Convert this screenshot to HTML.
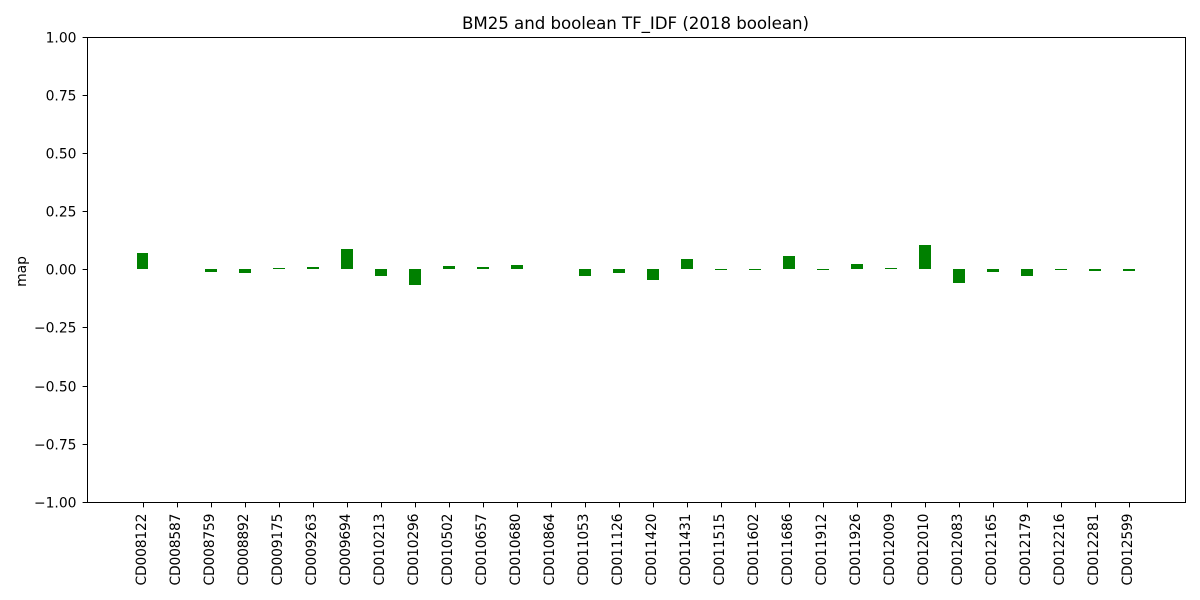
<!DOCTYPE html>
<html>
<head>
<meta charset="utf-8">
<title>BM25 and boolean TF_IDF (2018 boolean)</title>
<style>
html,body{margin:0;padding:0;background:#fff;}
svg{display:block;}
text{font-family:"DejaVu Sans",sans-serif;fill:#000;}
</style>
</head>
<body>
<svg id="chart" width="1200" height="600" viewBox="0 0 1200 600" xmlns="http://www.w3.org/2000/svg">
<rect x="0" y="0" width="1200" height="600" fill="#fff"/>
<text x="635.5" y="29" font-size="16.67" text-anchor="middle" textLength="347" lengthAdjust="spacing">BM25 and boolean TF_IDF (2018 boolean)</text>
<text transform="translate(26,271.5) rotate(-90)" font-size="13.89" text-anchor="middle">map</text>
<g id="bars"></g>
<g id="xticks"></g>
<g id="yticks"></g>
<rect x="87.5" y="37.5" width="1098" height="465" fill="none" stroke="#000" stroke-width="1"/>
</svg>
<script>
var categories = ["CD008122","CD008587","CD008759","CD008892","CD009175","CD009263","CD009694","CD010213","CD010296","CD010502","CD010657","CD010680","CD010864","CD011053","CD011126","CD011420","CD011431","CD011515","CD011602","CD011686","CD011912","CD011926","CD012009","CD012010","CD012083","CD012165","CD012179","CD012216","CD012281","CD012599"];
var mapDifference = [0.068,0,-0.012,-0.017,0.003,0.008,0.085,-0.030,-0.068,0.012,0.008,0.016,0,-0.030,-0.017,-0.047,0.042,-0.004,-0.004,0.055,-0.004,0.020,0.003,0.102,-0.060,-0.012,-0.030,-0.004,-0.008,-0.008];
var yTickValues = [1,0.75,0.5,0.25,0,-0.25,-0.5,-0.75,-1];
var yTickLabels = ["1.00","0.75","0.50","0.25","0.00","\u22120.25","\u22120.50","\u22120.75","\u22121.00"];

var NS = "http://www.w3.org/2000/svg";
var barFraction = 0.35;
function xScale(i){ return 142.54 + 34.01 * i; }
function yScale(v){ return 269.75 - 232.5 * v; }
function snap(p){ return Math.floor(p) + 0.5; }

var barsGroup = document.getElementById("bars");
var xGroup = document.getElementById("xticks");
var yGroup = document.getElementById("yticks");

mapDifference.forEach(function(v, i){
  if (v === 0) { return; }
  var halfWidth = barFraction * 34.01 / 2;
  var x0 = Math.round(xScale(i) - halfWidth);
  var x1 = Math.round(xScale(i) + halfWidth);
  var y0 = Math.round(yScale(Math.max(v, 0)));
  var y1 = Math.round(yScale(Math.min(v, 0)));
  var r = document.createElementNS(NS, "rect");
  
  
  r.setAttribute("x", x0);
  r.setAttribute("y", y0 - 1);
  r.setAttribute("width", x1 - x0);
  r.setAttribute("height", Math.max(1, y1 - y0));
  r.setAttribute("fill", "#008000");
  r.setAttribute("shape-rendering", "crispEdges");
  barsGroup.appendChild(r);
});

categories.forEach(function(c, i){
  var tx = Math.round(xScale(i)) + 0.5;
  var t = document.createElementNS(NS, "line");
  
  
  t.setAttribute("x1", tx);
  t.setAttribute("x2", tx);
  t.setAttribute("y1", 502.5);
  t.setAttribute("y2", 507.4);
  t.setAttribute("stroke", "#000");
  t.setAttribute("stroke-width", "1");
  xGroup.appendChild(t);
  var l = document.createElementNS(NS, "text");
  
  
  l.setAttribute("transform", "translate(" + (tx + 2.5) + ",513.5) rotate(-90)");
  l.setAttribute("font-size", "13.89");
  l.setAttribute("text-anchor", "end");
  l.setAttribute("textLength", "72");
  l.setAttribute("lengthAdjust", "spacing");
  l.textContent = c;
  xGroup.appendChild(l);
});

yTickValues.forEach(function(v, i){
  var ty = snap(yScale(v));
  var t = document.createElementNS(NS, "line");
  
  
  t.setAttribute("x1", 82.6);
  t.setAttribute("x2", 87.5);
  t.setAttribute("y1", ty);
  t.setAttribute("y2", ty);
  t.setAttribute("stroke", "#000");
  t.setAttribute("stroke-width", "1");
  yGroup.appendChild(t);
  var l = document.createElementNS(NS, "text");
  
  
  l.setAttribute("x", 76.5);
  l.setAttribute("y", ty + 5);
  l.setAttribute("font-size", "13.89");
  l.setAttribute("text-anchor", "end");
  l.textContent = yTickLabels[i];
  yGroup.appendChild(l);
});
</script>
</body>
</html>
